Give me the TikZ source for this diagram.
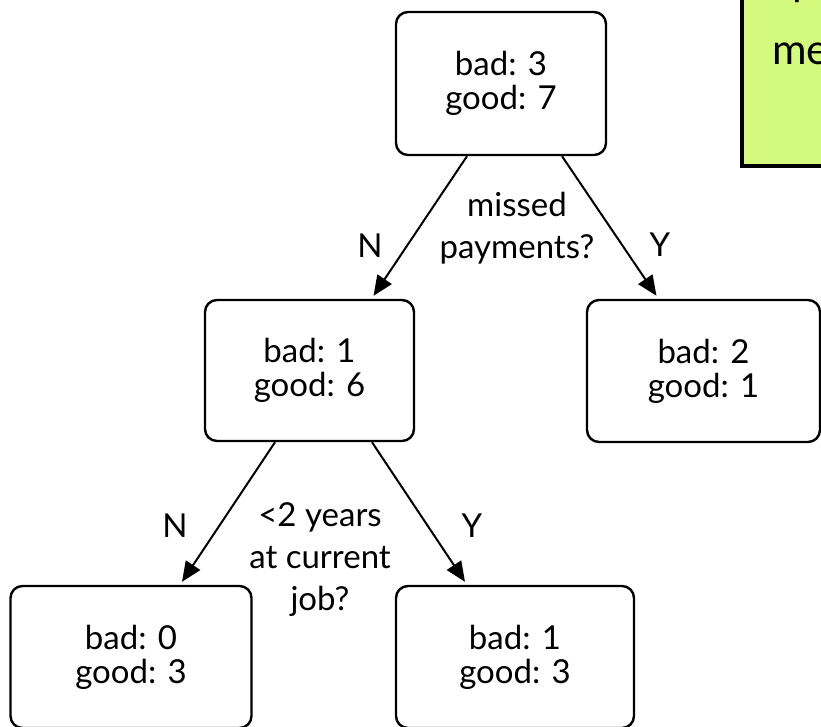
\documentclass[tikz,border=0pt]{standalone}
\usepackage{fontspec}
\setmainfont{Lato}
\usetikzlibrary{arrows.meta}
\definecolor{notegreen}{RGB}{212,250,125}
\tikzset{
  box/.style={draw, line width=2.4pt, rounded corners=12pt, align=center, inner sep=0pt,
    font=\fontsize{33}{34}\selectfont},
  arr/.style={line width=2pt, -{Triangle[length=20pt,width=17pt]}},
  lbl/.style={align=center, inner sep=0pt, font=\fontsize{33}{42}\selectfont},
}
\begin{document}
\begin{tikzpicture}[x=1pt,y=-1pt]
\useasboundingbox (0,0) rectangle (821,727);
\clip (0,0) rectangle (821,727);
% green note box (cut by the picture edge)
\draw[line width=4pt, fill=notegreen] (742,-20) rectangle (900,166);
\node[anchor=base west, inner sep=0pt, font=\fontsize{42}{42}\selectfont] (notep) at (792,-4) {p};
\node[anchor=base west, inner sep=0pt, font=\fontsize{42}{42}\selectfont] (noteme) at (772,65) {me};
% tree nodes
\node[box, minimum width=210pt, minimum height=143pt] (root) at (501,83.5) {bad: 3\\good: 7};
\node[box, minimum width=209pt, minimum height=141pt] (mid) at (309.5,370.5) {bad: 1\\good: 6};
\node[box, minimum width=233pt, minimum height=142pt] (right) at (703.5,371) {bad: 2\\good: 1};
\node[box, minimum width=241pt, minimum height=142pt] (bl) at (131,657) {bad: 0\\good: 3};
\node[box, minimum width=238pt, minimum height=142pt] (br) at (515,657) {bad: 1\\good: 3};
% edges
\draw[arr] ([xshift=-34pt]root.south) -- ([xshift=64pt,yshift=3pt]mid.north);
\draw[arr] ([xshift=61pt]root.south) -- ([xshift=-47pt,yshift=3pt]right.north);
\draw[arr] ([xshift=-34.5pt]mid.south) -- ([xshift=51pt,yshift=3pt]bl.north);
\draw[arr] ([xshift=62.5pt]mid.south) -- ([xshift=-50pt,yshift=3pt]br.north);
% labels
\node[lbl] (q1) at (517,228) {missed\\payments?};
\node[lbl] (n1) at (370,246) {N};
\node[lbl] (y1) at (660,245) {Y};
\node[lbl] (q2) at (320,560) {<2 years\\at current\\job?};
\node[lbl] (n2) at (175,526) {N};
\node[lbl] (y2) at (472,526) {Y};
\end{tikzpicture}
\end{document}
